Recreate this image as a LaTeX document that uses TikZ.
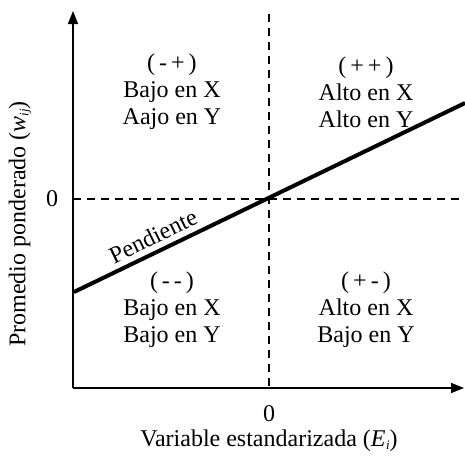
\documentclass[tikz,border=0pt]{standalone}
\usepackage{fontspec}
\setmainfont{Liberation Serif}
\usetikzlibrary{arrows.meta}
\begin{document}
\begin{tikzpicture}[x=1pt,y=-1pt,
  axis/.style={line width=1.6pt,-{Triangle[length=13pt,width=10pt]}},
  guide/.style={line width=1.6pt,dash pattern=on 8pt off 6pt},
  slope/.style={line width=4pt},
  lbl/.style={font=\fontsize{24}{27}\selectfont,align=center,inner sep=0pt},
  txt/.style={font=\fontsize{24}{27}\selectfont,inner sep=0pt}]
\useasboundingbox (0,0) rectangle (465,456);
\coordinate (O) at (73,388);
\coordinate (yt) at (73,11);
\coordinate (xt) at (464,388);
\coordinate (vt) at (269,14);
\coordinate (vb) at (269,388);
\coordinate (hl) at (73,199);
\coordinate (hr) at (465,199);
\coordinate (sl) at (74,292);
\coordinate (sr) at (465,103);
\draw[guide] (vt) -- (vb);
\draw[guide] (hl) -- (hr);
\draw[axis] (O) -- (yt);
\draw[axis] (O) -- (xt);
\draw[slope] (sl) -- (sr);
\node[lbl] (q1) at (172,92) {(\,-\,+\,)\\Bajo en X\\Aajo en Y};
\node[lbl] (q2) at (366,92) {(\,+\,+\,)\\Alto en X\\Alto en Y};
\node[lbl] (q3) at (172,310) {(\,-\,-\,)\\Bajo en X\\Bajo en Y};
\node[lbl] (q4) at (366,310) {(\,+\,-\,)\\Alto en X\\Bajo en Y};
\node[txt] (pend) at (153,236) [rotate=25.9] {Pendiente};
\node[txt] (y0) at (52,199) {0};
\node[txt] (x0) at (269,414) {0};
\node[txt] (xl) at (269,441) {Variable estandarizada (\textit{E}\kern0.5pt\raisebox{-3pt}{\fontsize{13}{13}\selectfont\textit{i}})};
\node[txt,rotate=90] (yl) at (20,224) {Promedio ponderado (\textit{w}\raisebox{-3pt}{\fontsize{13}{13}\selectfont\textit{ij}})};
\end{tikzpicture}
\end{document}
